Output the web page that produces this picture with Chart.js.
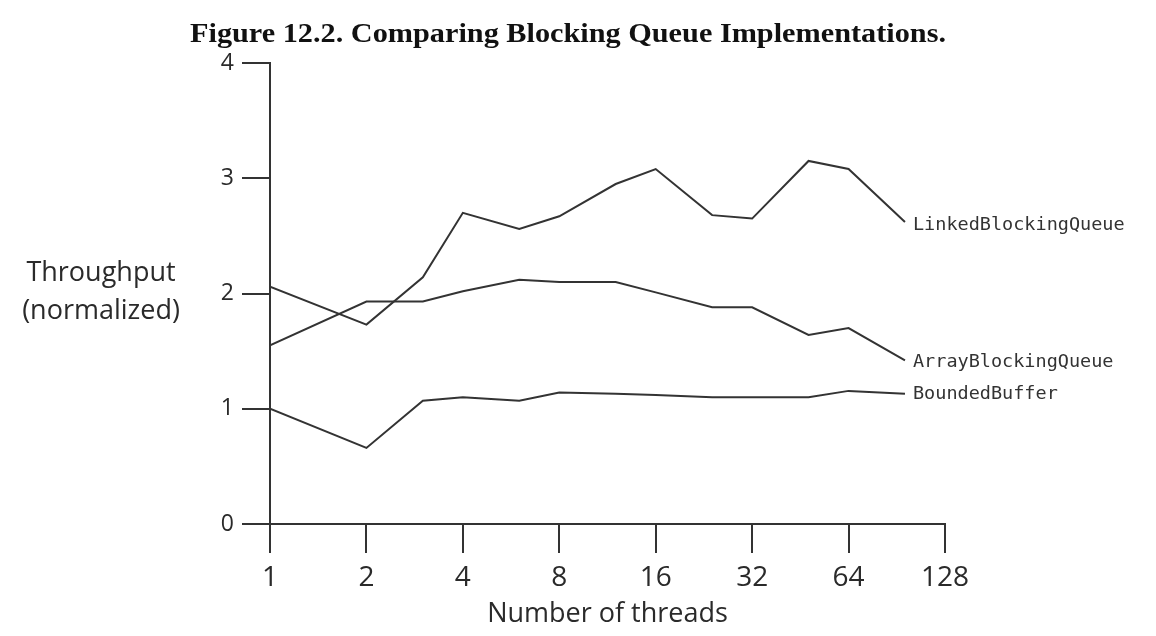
<!DOCTYPE html>
<html>
<head>
<meta charset="utf-8">
<script src="https://cdn.jsdelivr.net/npm/chart.js@4/dist/chart.umd.min.js"></script>
<style>
  html, body { margin: 0; padding: 0; background: #ffffff; }
  #wrap { width: 1156px; height: 636px; position: relative; }
</style>
</head>
<body>
<div id="wrap"><canvas id="c" width="1156" height="636"></canvas></div>
<script>
// ---- data ----
const chartTitle = "Figure 12.2. Comparing Blocking Queue Implementations.";
const yAxisTitle = ["Throughput", "(normalized)"];
const xAxisTitle = "Number of threads";
const threads = [1, 2, 3, 4, 6, 8, 12, 16, 24, 32, 48, 64, 96];
const xTickValues = [1, 2, 4, 8, 16, 32, 64, 128];
const yTickValues = [0, 1, 2, 3, 4];
const seriesNames = ["LinkedBlockingQueue", "ArrayBlockingQueue", "BoundedBuffer"];
const linkedBlockingQueue = [2.06, 1.73, 2.14, 2.70, 2.56, 2.67, 2.95, 3.08, 2.68, 2.65, 3.15, 3.08, 2.62];
const arrayBlockingQueue  = [1.55, 1.93, 1.93, 2.02, 2.12, 2.10, 2.10, 2.01, 1.88, 1.88, 1.64, 1.70, 1.42];
const boundedBuffer       = [1.00, 0.66, 1.07, 1.10, 1.07, 1.14, 1.13, 1.12, 1.10, 1.10, 1.10, 1.155, 1.13];

const ink = '#333333';
const toPoints = arr => arr.map((v, i) => ({ x: threads[i], y: v }));
const labelOffsets = [3, 2, 0];

const textPlugin = {
  id: 'textPlugin',
  afterDraw(chart) {
    const ctx = chart.ctx;
    ctx.save();
    // title
    ctx.fillStyle = '#111';
    ctx.font = 'bold 28px "Liberation Serif"';
    ctx.textBaseline = 'alphabetic';
    ctx.textAlign = 'left';
    const tw = ctx.measureText(chartTitle).width;
    const targetW = 756;
    ctx.save();
    ctx.translate(190, 42);
    ctx.scale(targetW / tw, 1);
    ctx.fillText(chartTitle, 0, 0);
    ctx.restore();

    // y-axis title (horizontal, two lines)
    ctx.fillStyle = '#2a2a2a';
    ctx.font = '27px "Open Sans"';
    ctx.textAlign = 'center';
    ctx.textBaseline = 'middle';
    ctx.fillText(yAxisTitle[0], 101, 273);
    ctx.fillText(yAxisTitle[1], 101, 311);

    // series labels at the end of each line
    ctx.font = '18.5px "DejaVu Sans Mono"';
    ctx.textAlign = 'left';
    ctx.fillStyle = '#333';
    chart.data.datasets.forEach((ds, i) => {
      const meta = chart.getDatasetMeta(i);
      const last = meta.data[meta.data.length - 1];
      ctx.fillText(seriesNames[i], last.x + 8, last.y + labelOffsets[i]);
    });
    ctx.restore();
  }
};

new Chart(document.getElementById('c'), {
  type: 'line',
  data: {
    datasets: [
      { label: seriesNames[0], data: toPoints(linkedBlockingQueue) },
      { label: seriesNames[1], data: toPoints(arrayBlockingQueue) },
      { label: seriesNames[2], data: toPoints(boundedBuffer) }
    ].map(d => Object.assign(d, {
      borderColor: ink, borderWidth: 2, pointRadius: 0, tension: 0, fill: false
    }))
  },
  options: {
    responsive: false,
    animation: false,
    layout: { padding: { left: 200, right: 211, top: 63, bottom: 0 } },
    plugins: {
      legend: { display: false },
      title: { display: false },
      tooltip: { enabled: false }
    },
    scales: {
      x: {
        type: 'logarithmic',
        min: 1, max: 128,
        afterBuildTicks: s => { s.ticks = xTickValues.map(v => ({ value: v })); },
        afterFit: s => { s.height = 112; },
        ticks: {
          callback: v => String(v),
          font: { family: 'Open Sans', size: 28 },
          color: '#2a2a2a',
          padding: 8,
          maxRotation: 0, autoSkip: false
        },
        grid: { display: true, drawOnChartArea: false, drawTicks: true, tickLength: 29, color: ink, lineWidth: 2 },
        border: { display: true, color: ink, width: 2 },
        title: {
          display: true, text: xAxisTitle,
          font: { family: 'Open Sans', size: 27 },
          color: '#2a2a2a',
          padding: { top: 0, bottom: 5 }
        }
      },
      y: {
        min: 0, max: 4,
        afterBuildTicks: s => { s.ticks = yTickValues.map(v => ({ value: v })); },
        afterFit: s => { s.width = 70; },
        ticks: {
          callback: v => String(v),
          font: { family: 'Open Sans', size: 23 },
          color: '#2a2a2a',
          padding: 8
        },
        grid: { display: true, drawOnChartArea: false, drawTicks: true, tickLength: 28, color: ink, lineWidth: 2 },
        border: { display: true, color: ink, width: 2 }
      }
    }
  },
  plugins: [textPlugin]
});
</script>
</body>
</html>
